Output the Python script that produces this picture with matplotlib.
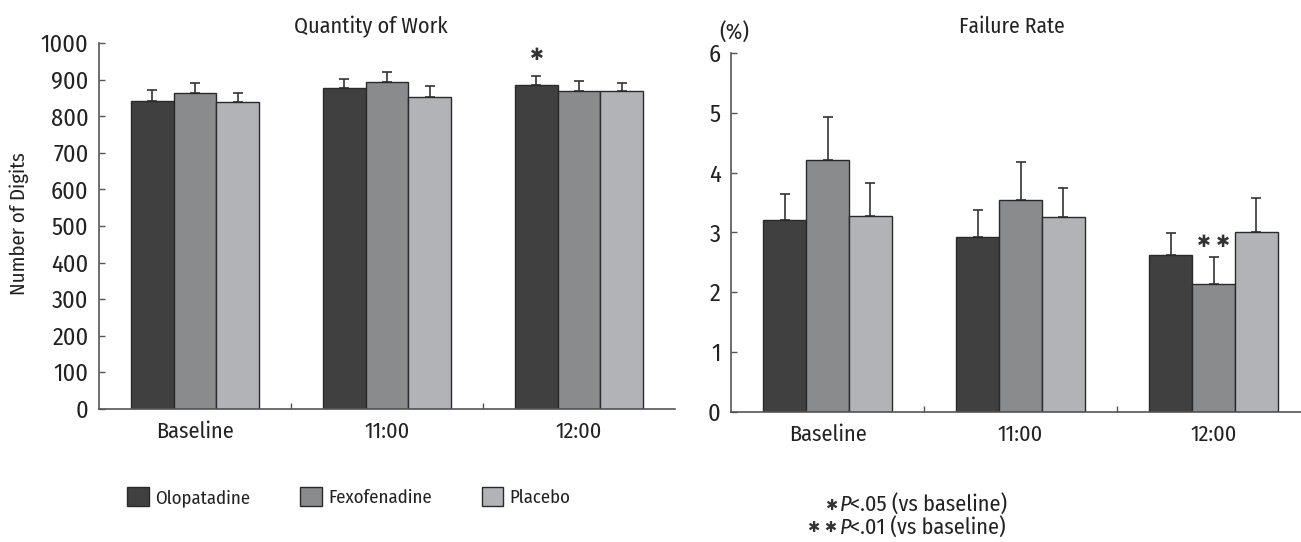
import matplotlib
matplotlib.use("Agg")
import matplotlib.pyplot as plt
import numpy as np

plt.rcParams['font.family'] = ['Fira Sans Condensed', 'Noto Sans', 'DejaVu Sans']

# data
groups = ["Baseline", "11:00", "12:00"]
drugs = ["Olopatadine", "Fexofenadine", "Placebo"]
colors = ["#404040", "#8a8b8d", "#b2b3b7"]

work_mean = [[842, 878, 886],   # Olopatadine
             [865, 895, 870],   # Fexofenadine
             [838, 853, 870]]   # Placebo
work_top = [[871, 902, 911],
            [890, 922, 898],
            [865, 882, 891]]

fail_mean = [[3.21, 2.92, 2.62],
             [4.22, 3.54, 2.14],
             [3.28, 3.26, 3.01]]
fail_top = [[3.65, 3.38, 2.99],
             [4.93, 4.18, 2.59],
             [3.82, 3.74, 3.57]]

# significance marks: (group, drug, y, text)
work_sig = [(2, 0, 968, "\u2731")]
fail_sig = [(2, 1, 2.84, "\u2731 \u2731")]

W, H = 1301, 542
fig = plt.figure(figsize=(W / 100, H / 100), dpi=100)

edge = "#2a2a2a"
txt = "#222222"
width = 0.222
x = np.arange(len(groups))


def draw(ax, means, tops, ymax, yticks, sig):
    handles = []
    for i in range(3):
        pos = x + (i - 1) * width
        m = np.array(means[i])
        t = np.array(tops[i])
        b = ax.bar(pos, m, width, color=colors[i], edgecolor=edge, linewidth=1,
                   zorder=2, label=drugs[i])
        ax.errorbar(pos, m, yerr=[np.zeros(3), t - m], fmt="none", ecolor="#333333",
                    elinewidth=1.2, capsize=3.5, capthick=1.2, zorder=1)
        handles.append(b)
    for g, d, y, s in sig:
        ax.text(x[g] + (d - 1) * width, y, s, ha="center", va="center",
                fontsize=12, color="#333333", family=["DejaVu Sans"])
    ax.set_xlim(-0.5, 2.5)
    ax.set_ylim(0, ymax)
    ax.set_yticks(yticks)
    ax.set_xticks(x, groups)
    ax.set_xticks([0.5, 1.5], minor=True)
    ax.tick_params(axis="x", which="major", length=0, pad=9, labelsize=16, labelcolor=txt)
    ax.tick_params(axis="x", which="minor", direction="in", length=4, width=1, color="#555555")
    ax.tick_params(axis="y", direction="in", length=4, width=1, color="#555555",
                   pad=7.5, labelsize=17.5, labelcolor=txt)
    for s in ["top", "right"]:
        ax.spines[s].set_visible(False)
    for s in ["left", "bottom"]:
        ax.spines[s].set_color("#555555")
        ax.spines[s].set_linewidth(1.2)
    return handles


ax1 = fig.add_axes([99 / W, 1 - 408.7 / H, 576 / W, 365.4 / H])
handles = draw(ax1, work_mean, work_top, 1000, range(0, 1001, 100), work_sig)
ax1.set_ylabel("Number of Digits", fontsize=15, color=txt)
ax1.yaxis.set_label_coords(29 / W, 1 - 224 / H, transform=fig.transFigure)

ax2 = fig.add_axes([731 / W, 1 - 411.5 / H, 579 / W, 358.2 / H])
draw(ax2, fail_mean, fail_top, 6, range(0, 7), fail_sig)

fig.text(371 / W, 1 - 27 / H, "Quantity of Work", ha="center", va="center", fontsize=16, color=txt)
fig.text(1012 / W, 1 - 27 / H, "Failure Rate", ha="center", va="center", fontsize=15.5, color=txt)
fig.text(734 / W, 1 - 33 / H, "(%)", ha="center", va="center", fontsize=16, color=txt)

fig.legend(handles, drugs, loc="center left", bbox_to_anchor=(127 / W, 1 - 497 / H),
           ncol=3, frameon=False, fontsize=13.5, handlelength=1.15, handleheight=1.15,
           handletextpad=0.35, columnspacing=2.65, borderpad=0, borderaxespad=0,
           labelcolor=txt)

# footnote
for yy, star, pval in [(505, "\u2731", "<.05 (vs baseline)"), (528, "\u2731 \u2731", "<.01 (vs baseline)")]:
    fig.text(837 / W, 1 - yy / H, star, ha="right", va="center", fontsize=10.5,
             color="#333333", family=["DejaVu Sans"])
    fig.text(840 / W, 1 - yy / H, "P", ha="left", va="center", fontsize=16,
             style="italic", color=txt)
    fig.text(850 / W, 1 - yy / H, pval, ha="left", va="center", fontsize=16, color=txt)

fig.savefig("out.png", dpi=100)
